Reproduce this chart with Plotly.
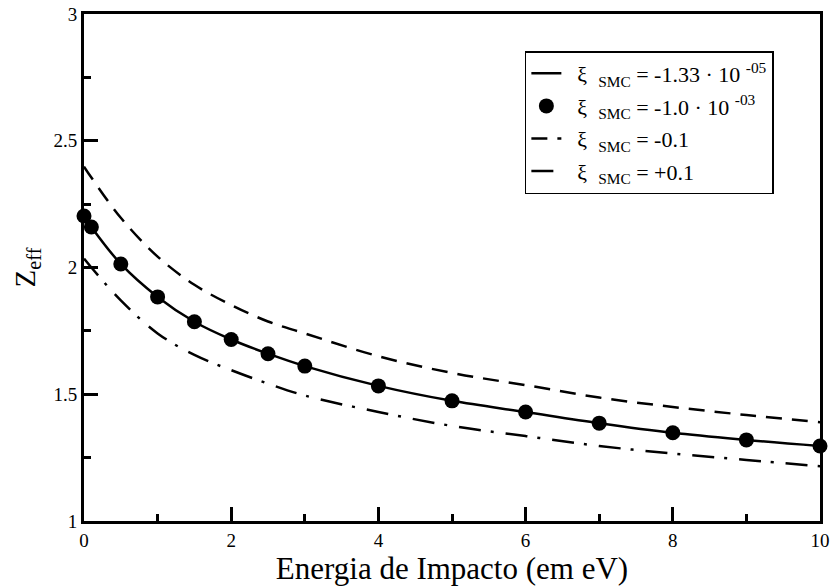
import plotly.graph_objects as go

# Impact energy (eV) and effective charge for each SMC parameter
energia = [0, 0.1, 0.5, 1, 1.5, 2, 2.5, 3, 4, 5, 6, 7, 8, 9, 10]
zeff_a = [2.203, 2.160, 2.014, 1.884, 1.786, 1.716, 1.660, 1.611, 1.533, 1.474, 1.430, 1.386, 1.348, 1.320, 1.296]
zeff_b = [2.203, 2.160, 2.014, 1.884, 1.786, 1.716, 1.660, 1.611, 1.533, 1.474, 1.430, 1.386, 1.348, 1.320, 1.296]
zeff_neg = [2.398, 2.355, 2.196, 2.043, 1.932, 1.852, 1.787, 1.740, 1.650, 1.584, 1.536, 1.487, 1.450, 1.418, 1.390]
zeff_pos = [2.035, 2.000, 1.870, 1.740, 1.655, 1.595, 1.542, 1.495, 1.430, 1.375, 1.335, 1.296, 1.266, 1.241, 1.216]

nomes = [
    "\u00a0\u00a0ξ\u00a0\u00a0<sub>SMC</sub> = -1.33 · 10 <sup>-05</sup>",
    "\u00a0\u00a0ξ\u00a0\u00a0<sub>SMC</sub> = -1.0 · 10 <sup>-03</sup>",
    "\u00a0\u00a0ξ\u00a0\u00a0<sub>SMC</sub> = -0.1",
    "\u00a0\u00a0ξ\u00a0\u00a0<sub>SMC</sub> = +0.1",
]

SERIF = "Liberation Serif"

fig = go.Figure()
fig.add_trace(go.Scatter(x=energia, y=zeff_a, mode="lines", name=nomes[0], legendgroup="a",
                         line=dict(color="black", width=2.5, shape="spline")))
fig.add_trace(go.Scatter(x=energia, y=zeff_b, mode="markers", name=nomes[1], legendgroup="b",
                         marker=dict(color="black", size=15), cliponaxis=False))
fig.add_trace(go.Scatter(x=energia, y=zeff_neg, mode="lines", name=nomes[2], legendgroup="c",
                         line=dict(color="black", width=2.5, dash="16px,10px", shape="spline")))
fig.add_trace(go.Scatter(x=energia, y=zeff_pos, mode="lines", name=nomes[3], legendgroup="d",
                         line=dict(color="black", width=2.5, dash="22px,10px,3px,12px", shape="spline")))

fig.update_layout(
    width=830, height=586,
    margin=dict(l=84, r=10, t=14, b=65),
    paper_bgcolor="white", plot_bgcolor="white",
    font=dict(family=SERIF, color="black", size=19),
    showlegend=True,
    legend=dict(x=0.599, y=0.927, xanchor="left", yanchor="top",
                bgcolor="white", bordercolor="black", borderwidth=1.5,
                font=dict(family=SERIF, size=22), itemwidth=30,
                tracegroupgap=1, traceorder="grouped"),
)
fig.update_xaxes(
    range=[0, 10], tick0=0, dtick=2, ticks="inside", ticklen=14, tickwidth=2.5,
    tickcolor="black", showline=True, linecolor="black", linewidth=3, mirror=True,
    showgrid=False, zeroline=False, tickfont=dict(family=SERIF, size=19), automargin=False,
    minor=dict(dtick=1, ticks="inside", ticklen=7, tickwidth=2.5, tickcolor="black", showgrid=False),
    title=dict(text="Energia de Impacto (em eV)", font=dict(family=SERIF, size=31), standoff=0),
)
fig.update_yaxes(
    range=[1, 3], tick0=1, dtick=0.5, ticks="inside", ticklen=14, tickwidth=2.5,
    tickcolor="black", showline=True, linecolor="black", linewidth=3, mirror=True,
    showgrid=False, zeroline=False, tickfont=dict(family=SERIF, size=19), automargin=False,
    minor=dict(dtick=0.25, ticks="inside", ticklen=7, tickwidth=2.5, tickcolor="black", showgrid=False),
    title=dict(text="Z<sub>eff</sub>", font=dict(family=SERIF, size=29), standoff=10),
)

fig.write_html("out.html")
